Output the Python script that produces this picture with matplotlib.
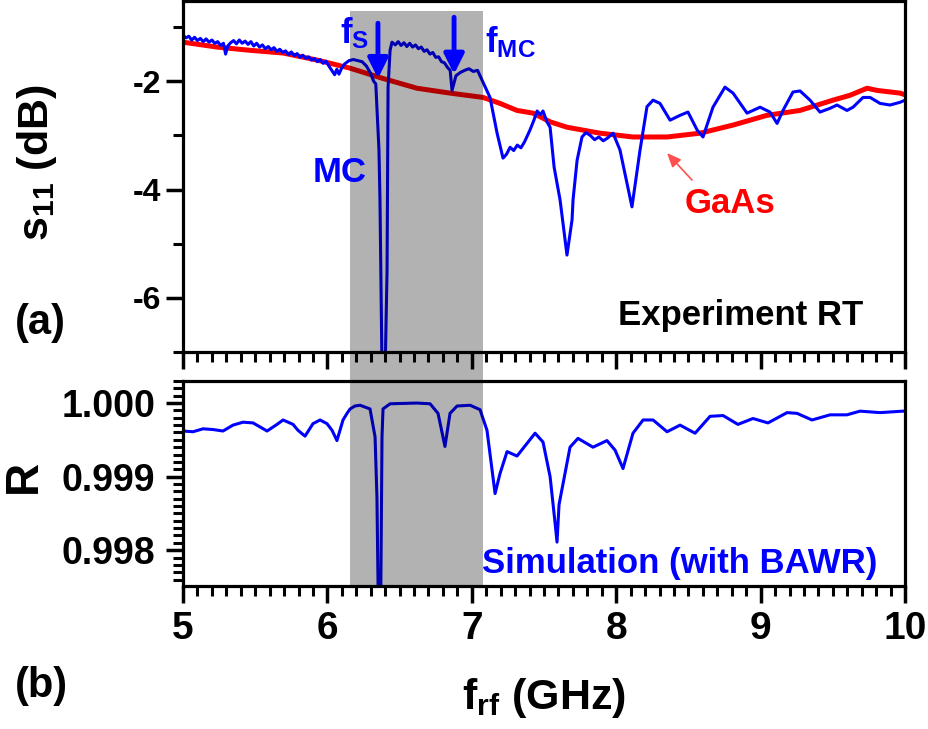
import matplotlib
matplotlib.use('Agg')
import matplotlib.pyplot as plt
import matplotlib.transforms as mtransforms
from matplotlib.patches import Rectangle
from matplotlib.ticker import MultipleLocator, FormatStrFormatter

plt.rcParams['font.family'] = ['Liberation Sans', 'DejaVu Sans']
plt.rcParams['font.weight'] = 'bold'
plt.rcParams['axes.unicode_minus'] = False
plt.rcParams['mathtext.fontset'] = 'custom'
plt.rcParams['mathtext.rm'] = 'Liberation Sans:bold'
plt.rcParams['mathtext.it'] = 'Liberation Sans:bold'
plt.rcParams['mathtext.bf'] = 'Liberation Sans:bold'

# (a) experiment, room temperature: s11 of the device (blue) and bare GaAs (red)
exp_f = [5.000, 5.020, 5.040, 5.060, 5.080, 5.100, 5.120, 5.140, 5.160, 5.180,
         5.200, 5.220, 5.240, 5.260, 5.280, 5.295, 5.310, 5.330, 5.350, 5.370,
         5.390, 5.410, 5.430, 5.450, 5.470, 5.490, 5.510, 5.530, 5.550, 5.570,
         5.590, 5.610, 5.630, 5.650, 5.670, 5.690, 5.710, 5.730, 5.750, 5.770,
         5.790, 5.810, 5.830, 5.850, 5.870, 5.890, 5.910, 5.930, 5.950, 5.970,
         5.990, 6.010, 6.030, 6.050, 6.065, 6.080, 6.100, 6.120, 6.150, 6.180,
         6.210, 6.240, 6.270, 6.300, 6.320, 6.335, 6.357, 6.364, 6.378, 6.400,
         6.413, 6.420, 6.434, 6.447, 6.470, 6.490, 6.510, 6.530, 6.550, 6.570,
         6.590, 6.610, 6.630, 6.650, 6.670, 6.690, 6.710, 6.730, 6.750, 6.770,
         6.790, 6.810, 6.830, 6.850, 6.863, 6.875, 6.890, 6.920, 6.950, 6.980,
         7.010, 7.040, 7.057, 7.126, 7.175, 7.216, 7.240, 7.265, 7.290, 7.315,
         7.340, 7.365, 7.403, 7.430, 7.452, 7.475, 7.493, 7.520, 7.542, 7.570,
         7.611, 7.659, 7.694, 7.701, 7.729, 7.763, 7.790, 7.820, 7.850, 7.880,
         7.910, 7.940, 7.978, 8.026, 8.068, 8.109, 8.165, 8.213, 8.255, 8.303,
         8.373, 8.442, 8.497, 8.560, 8.601, 8.670, 8.753, 8.809, 8.906, 8.996,
         9.065, 9.114, 9.155, 9.224, 9.273, 9.342, 9.411, 9.481, 9.529, 9.598,
         9.640, 9.709, 9.758, 9.827, 9.896, 9.965, 10.000]
exp_s11 = [-1.15, -1.20, -1.17, -1.24, -1.19, -1.25, -1.21, -1.27, -1.22, -1.28,
           -1.24, -1.30, -1.27, -1.34, -1.30, -1.50, -1.35, -1.29, -1.25, -1.31,
           -1.24, -1.30, -1.26, -1.32, -1.27, -1.35, -1.30, -1.37, -1.33, -1.40,
           -1.36, -1.42, -1.38, -1.45, -1.41, -1.47, -1.44, -1.51, -1.46, -1.53,
           -1.49, -1.56, -1.52, -1.58, -1.55, -1.61, -1.58, -1.64, -1.60, -1.67,
           -1.63, -1.72, -1.80, -1.88, -1.78, -1.87, -1.75, -1.68, -1.62, -1.60,
           -1.62, -1.64, -1.72, -1.86, -2.00, -2.05, -3.27, -4.20, -7.30, -7.30,
           -5.50, -2.11, -1.43, -1.28, -1.33, -1.27, -1.34, -1.29, -1.36, -1.30,
           -1.37, -1.33, -1.40, -1.37, -1.45, -1.42, -1.50, -1.47, -1.56, -1.55,
           -1.64, -1.66, -1.74, -1.80, -2.17, -2.05, -1.90, -1.84, -1.80, -1.77,
           -1.82, -1.80, -1.90, -2.30, -2.96, -3.42, -3.35, -3.22, -3.28, -3.18,
           -3.23, -3.12, -2.90, -2.72, -2.55, -2.62, -2.55, -2.75, -2.85, -3.59,
           -4.19, -5.21, -4.56, -4.19, -3.46, -3.03, -2.95, -3.00, -3.08, -3.03,
           -3.10, -3.05, -2.96, -3.27, -3.80, -4.32, -3.27, -2.47, -2.35, -2.41,
           -2.72, -2.63, -2.57, -2.90, -3.03, -2.48, -2.11, -2.22, -2.59, -2.48,
           -2.57, -2.78, -2.54, -2.20, -2.18, -2.35, -2.57, -2.50, -2.44, -2.54,
           -2.48, -2.30, -2.30, -2.41, -2.44, -2.39, -2.35]

gaas_f = [5.000, 5.235, 5.464, 5.693, 5.928, 6.157, 6.385, 6.620, 6.849, 7.078,
          7.195, 7.313, 7.424, 7.542, 7.659, 7.888, 8.116, 8.352, 8.580, 8.809,
          9.044, 9.273, 9.501, 9.619, 9.737, 9.806, 9.965, 10.000]
gaas_s11 = [-1.28, -1.37, -1.43, -1.48, -1.61, -1.76, -1.95, -2.13, -2.22, -2.30,
            -2.41, -2.54, -2.59, -2.75, -2.85, -2.96, -3.03, -3.03, -2.96, -2.81,
            -2.63, -2.54, -2.35, -2.26, -2.13, -2.17, -2.22, -2.25]

# (b) simulated reflectance with BAWR
sim_f = [5.000, 5.069, 5.139, 5.208, 5.277, 5.346, 5.416, 5.485, 5.582, 5.651,
         5.693, 5.762, 5.796, 5.845, 5.900, 5.949, 5.997, 6.032, 6.066, 6.108,
         6.136, 6.157, 6.191, 6.226, 6.295, 6.330, 6.343, 6.354, 6.368, 6.378,
         6.385, 6.434, 6.620, 6.711, 6.766, 6.814, 6.849, 6.898, 6.988, 7.057,
         7.105, 7.161, 7.195, 7.244, 7.313, 7.438, 7.493, 7.542, 7.576, 7.590,
         7.604, 7.645, 7.680, 7.735, 7.839, 7.936, 7.992, 8.047, 8.116, 8.186,
         8.255, 8.352, 8.442, 8.546, 8.650, 8.740, 8.843, 8.947, 9.051, 9.183,
         9.252, 9.356, 9.481, 9.598, 9.688, 9.827, 9.986, 10.000]
sim_r = [0.99962, 0.99961, 0.99965, 0.99964, 0.99962, 0.99970, 0.99974, 0.99973, 0.99962, 0.99971,
         0.99977, 0.99971, 0.99963, 0.99955, 0.99972, 0.99977, 0.99972, 0.99963, 0.99949, 0.99977,
         0.99986, 0.99992, 0.99996, 0.99997, 0.99992, 0.99954, 0.99872, 0.99700, 0.99700, 0.99954,
         0.99992, 0.99999, 1.00000, 0.99999, 0.99986, 0.99941, 0.99986, 0.99996, 0.99997, 0.99991,
         0.99963, 0.99877, 0.99904, 0.99934, 0.99928, 0.99959, 0.99947, 0.99900, 0.99838, 0.99811,
         0.99862, 0.99904, 0.99940, 0.99952, 0.99940, 0.99949, 0.99936, 0.99911, 0.99959, 0.99977,
         0.99977, 0.99961, 0.99970, 0.99959, 0.99982, 0.99983, 0.99971, 0.99979, 0.99973, 0.99987,
         0.99986, 0.99977, 0.99984, 0.99984, 0.99989, 0.99987, 0.99989, 0.99989]

band_lo, band_hi = 6.157, 7.077
fs_pos, fmc_pos = 6.35, 6.877

fig = plt.figure(figsize=(9.29, 7.29), dpi=100)
ax1 = fig.add_axes([0.197, 0.5171, 0.7772, 0.4815])
ax2 = fig.add_axes([0.197, 0.1968, 0.7772, 0.2806])

blue = '#0000ff'
red = '#ff0000'

# top panel
ax1.plot(gaas_f, gaas_s11, color=red, lw=3.6, zorder=2)
ax1.plot(exp_f, exp_s11, color=blue, lw=2.2, zorder=2.1)
ax1.axvspan(band_lo, band_hi, ymin=0, ymax=0.972, color='k', alpha=0.3, lw=0, zorder=2.5)
ax1.set_xlim(5, 10)
ax1.set_ylim(-7.0, -0.52)
ax1.yaxis.set_major_locator(MultipleLocator(2))
ax1.yaxis.set_minor_locator(MultipleLocator(1))
ax1.yaxis.set_major_formatter(FormatStrFormatter('%d'))
ax1.xaxis.set_major_locator(MultipleLocator(1))
ax1.xaxis.set_minor_locator(MultipleLocator(0.1))
ax1.tick_params(axis='x', labelbottom=False)
ax1.tick_params(axis='y', labelsize=23, pad=4)
ax1.set_ylabel('s$_{11}$ (dB)', fontsize=31, fontweight='bold')
ax1.yaxis.set_label_coords(-0.172, 0.54)

ax1.annotate('', xy=(fs_pos, -1.95), xytext=(fs_pos, -0.93),
             arrowprops=dict(arrowstyle='-|>,head_width=0.3,head_length=0.6',
                             color=blue, lw=3.5, mutation_scale=20, shrinkA=0, shrinkB=0))
ax1.annotate('', xy=(fmc_pos, -1.87), xytext=(fmc_pos, -0.82),
             arrowprops=dict(arrowstyle='-|>,head_width=0.3,head_length=0.6',
                             color=blue, lw=3.5, mutation_scale=20, shrinkA=0, shrinkB=0))
ax1.text(6.087, -1.30, 'f$_{S}$', color=blue, fontsize=25, ha='left', va='baseline')
ax1.text(7.09, -1.465, 'f$_{MC}$', color=blue, fontsize=25, ha='left', va='baseline')
ax1.text(5.90, -3.86, 'MC', color=blue, fontsize=25, ha='left', va='baseline')
ax1.text(8.476, -4.43, 'GaAs', color=red, fontsize=25, ha='left', va='baseline')
ax1.annotate('', xy=(8.352, -3.327), xytext=(8.525, -3.825),
             arrowprops=dict(arrowstyle='-|>,head_width=0.3,head_length=0.7',
                             color='#ff5050', lw=1.2, mutation_scale=12, shrinkA=0, shrinkB=0))
ax1.text(8.012, -6.50, 'Experiment RT', color='black', fontsize=25, ha='left', va='baseline')

# bottom panel
ax2.plot(sim_f, sim_r, color=blue, lw=2.2, zorder=2)
ax2.axvspan(band_lo, band_hi, color='k', alpha=0.3, lw=0, zorder=2.5)
ax2.set_xlim(5, 10)
ax2.set_ylim(0.99752, 1.0003)
ax2.yaxis.set_major_locator(MultipleLocator(0.001))
ax2.yaxis.set_minor_locator(MultipleLocator(0.0001))
ax2.yaxis.set_major_formatter(FormatStrFormatter('%.3f'))
ax2.xaxis.set_major_locator(MultipleLocator(1))
ax2.xaxis.set_minor_locator(MultipleLocator(0.1))
ax2.tick_params(axis='y', labelsize=27, pad=8)
ax2.tick_params(axis='x', labelsize=28, pad=6)
ax2.set_ylabel('R', fontsize=33, fontweight='bold')
ax2.yaxis.set_label_coords(-0.19, 0.535)
ax2.set_xlabel('f$_{rf}$ (GHz)', fontsize=31, fontweight='bold')
ax2.xaxis.set_label_coords(0.5, -0.44)
ax2.text(7.07, 0.997689, 'Simulation (with BAWR)', color=blue, fontsize=25,
         ha='left', va='baseline')

for ax in (ax1, ax2):
    ax.set_facecolor('white')
    for s in ax.spines.values():
        s.set_linewidth(2.3)
    ax.tick_params(which='major', direction='out', length=12, width=2.5,
                   top=False, right=False)
    ax.tick_params(which='minor', direction='out', length=7, width=2.2,
                   top=False, right=False)

# grey band continues through the gap between the panels
trans = mtransforms.blended_transform_factory(ax2.transData, fig.transFigure)
y_gap0 = 0.1968 + 0.2806
y_gap1 = 0.5171
fig.add_artist(Rectangle((band_lo, y_gap0), band_hi - band_lo, y_gap1 - y_gap0,
                         transform=trans, facecolor='k', alpha=0.3, lw=0, zorder=-1))

fig.text(15 / 929, 1 - 323 / 729, '(a)', fontsize=30, fontweight='bold', ha='left', va='center')
fig.text(15 / 929, 1 - 686 / 729, '(b)', fontsize=30, fontweight='bold', ha='left', va='center')

fig.savefig('out.png', dpi=100)
